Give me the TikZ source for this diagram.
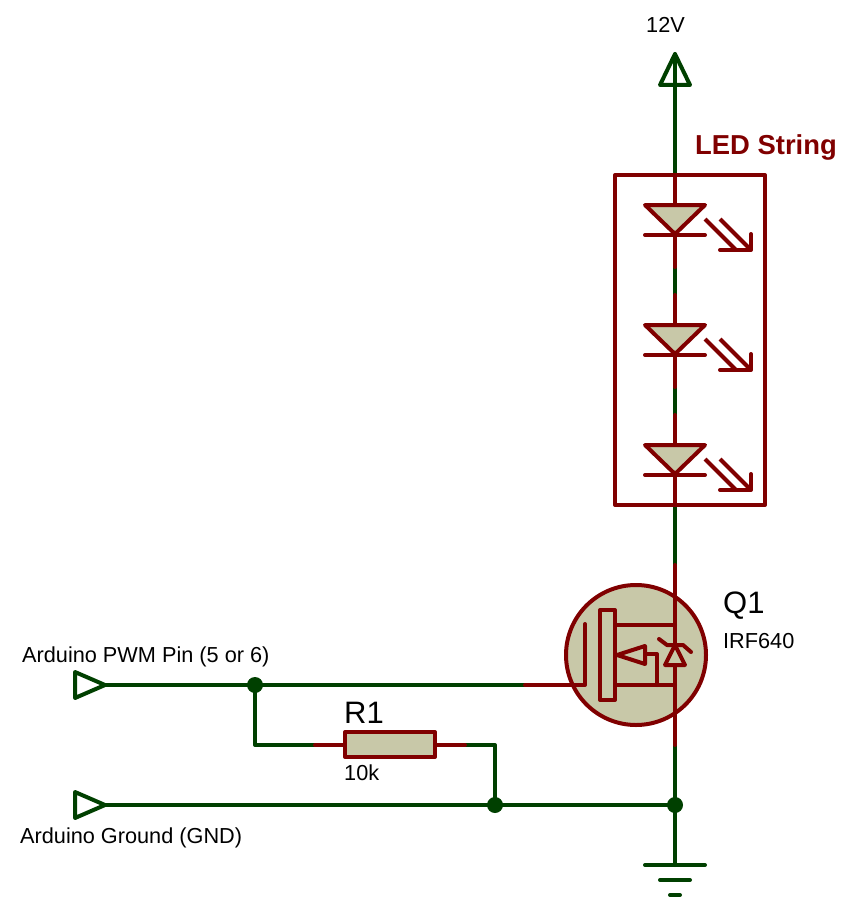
\documentclass[tikz,border=0pt]{standalone}
\usepackage{fontspec}
\setmainfont{Liberation Sans}
\definecolor{wirecol}{HTML}{004000}
\definecolor{compcol}{HTML}{800000}
\definecolor{bodycol}{HTML}{C8C8A8}
\tikzset{
  x=1pt,y=-1pt,
  wire/.style={draw=wirecol,line width=4pt,line cap=round,line join=round},
  pinline/.style={draw=compcol,line width=4pt,line cap=round,line join=round},
  bodyline/.style={pinline,fill=bodycol},
  junction/.style={circle,fill=wirecol,draw=none,minimum size=16pt,inner sep=0pt},
  label20/.style={anchor=base west,inner sep=0pt,font=\fontsize{21.7}{26}\selectfont},
  label30/.style={anchor=base west,inner sep=0pt,font=\fontsize{31}{36}\selectfont},
  ledlabel/.style={anchor=base west,inner sep=0pt,text=compcol,font=\fontsize{27.4}{32}\selectfont\bfseries},
}
\begin{document}
\begin{tikzpicture}
\useasboundingbox (0,0) rectangle (853,915);
% connection points
\coordinate (supply) at (675,85);
\coordinate (supplytip) at (675,54);
\coordinate (boxtop) at (675,175);
\coordinate (boxbot) at (675,505);
\coordinate (drain) at (675,565);
\coordinate (source) at (675,745);
\coordinate (gndtop) at (675,865);
\coordinate (pwmtip) at (105,685);
\coordinate (gate) at (525,685);
\coordinate (gatein) at (585,685);
\coordinate (gnptip) at (105,805);
\coordinate (rcornerL) at (255,745);
\coordinate (rpinL) at (315,745);
\coordinate (rbodyL) at (345,745);
\coordinate (rbodyR) at (435,745);
\coordinate (rpinR) at (465,745);
\coordinate (rcornerR) at (495,745);
\node[junction] (j1) at (255,685) {};
\node[junction] (j2) at (495,805) {};
\node[junction] (j3) at (675,805) {};
% wires
\draw[wire] (supplytip) -- (boxtop);
\draw[wire] (boxbot) -- (drain);
\draw[wire] (source) -- (gndtop);
\draw[wire] (pwmtip) -- (gate);
\draw[wire] (j1.center) -- (rcornerL) -- (rpinL);
\draw[wire] (rpinR) -- (rcornerR) -- (j2.center);
\draw[wire] (gnptip) -- (j3.center);
% terminals
\draw[wire] (675,54) -- (690,85) -- (660,85) -- cycle;
\draw[wire] (105,685) -- (75,672) -- (75,698) -- cycle;
\draw[wire] (105,805) -- (75,792) -- (75,818) -- cycle;
% ground
\draw[wire] (645,865) -- (705,865);
\draw[wire] (660,880) -- (690,880);
\draw[wire] (670,895) -- (680,895);
% LED string
\draw[wire] (675,265) -- (675,295);
\draw[wire] (675,385) -- (675,415);
\draw[pinline] (615,175) rectangle (765,505);
\draw[pinline] (675,175) -- (675,267);
\draw[pinline] (675,295) -- (675,387);
\draw[pinline] (675,415) -- (675,505);
\foreach \dy in {0,120,240}{
  \begin{scope}[yshift=-\dy pt]
    \draw[bodyline] (645,205) -- (705,205) -- (675,234) -- cycle;
    \draw[pinline] (645,235) -- (705,235);
    \draw[pinline,line cap=butt] (705,219) -- (736,250);
    \draw[pinline,line cap=butt] (720,219) -- (751,250);
    \draw[pinline] (720,250) -- (751,250) -- (751,234);
  \end{scope}
}
% MOSFET
\draw[bodyline] (636,655) circle (70);
\draw[pinline] (675,565) -- (675,745);
\draw[pinline] (525,685) -- (585,685) -- (585,624);
\draw[bodyline] (600,610) rectangle (615,700);
\draw[pinline] (615,625) -- (675,625);
\draw[pinline] (615,685) -- (675,685);
\draw[pinline] (617,655) -- (645,646) -- (645,664) -- cycle;
\draw[pinline] (645,654) -- (657,654) -- (657,685);
\draw[bodyline] (675,645) -- (685,665) -- (665,665) -- cycle;
\draw[pinline] (659,639) -- (667,645) -- (683,645) -- (691,652);
% resistor
\draw[pinline] (rpinL) -- (rbodyL);
\draw[pinline] (rbodyR) -- (rpinR);
\draw[bodyline] (345,732) rectangle (435,757);
% labels
\node[label20] (lv) at (646,33) {12V};
\node[ledlabel] (lled) at (695,154) {LED String};
\node[label30] (lq) at (723,613) {Q1};
\node[label20] (lirf) at (723,648) {IRF640};
\node[label20] (lpwm) at (22,662) {Arduino PWM Pin (5 or 6)};
\node[label30] (lr) at (344,723) {R1};
\node[label20] (lk) at (344,780) {10k};
\node[label20] (lgnd) at (20,843) {Arduino Ground (GND)};
\end{tikzpicture}
\end{document}
